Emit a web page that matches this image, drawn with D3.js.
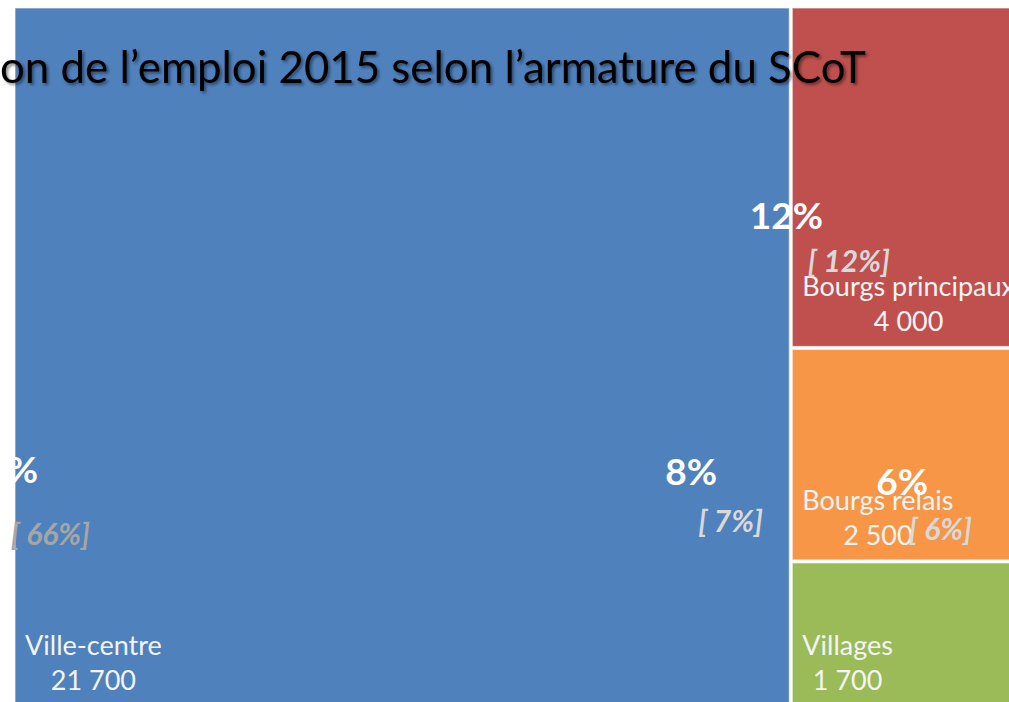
<!DOCTYPE html>
<html>
<head>
<meta charset="utf-8">
<script src="https://cdn.jsdelivr.net/npm/d3@7"></script>
<style>
  html, body { margin: 0; padding: 0; background: #fff; overflow: hidden; }
  svg { display: block; font-family: Lato, "Open Sans", sans-serif; }
</style>
</head>
<body>
<svg id="chart" width="1009" height="702"></svg>
<script>
// data
const names = ["Ville-centre", "Bourgs principaux", "Bourgs relais", "Villages"]
const jobs = [21700, 4000, 2500, 1700]
const groups = ["centre", "bourgs", "bourgs", "bourgs"]
const colors = ["#4F81BD", "#C0504D", "#F79646", "#9BBB59"]

// overlay text boxes (shares of jobs, [ shares of something else ])
const shareLabels = ["66%", "8%", "12%", "6%"]
const refLabels = ["[ 66%]", "[ 7%]", "[ 12%]", "[ 6%]"]

const title = "on de l\u2019emploi 2015 selon l\u2019armature du SCoT"

let svg = d3.select("#chart")
let fmt = d3.formatLocale({ decimal: ",", thousands: "\u00a0", grouping: [3], currency: ["", "\u20ac"] }).format(",d")

let margin = { top: 8, left: 15 }

// soft shadow for the title
let defs = svg.append("defs")
let f = defs.append("filter").attr("id", "shadow")
    .attr("x", "-5%").attr("y", "-20%").attr("width", "110%").attr("height", "150%")
f.append("feDropShadow")
    .attr("dx", 2).attr("dy", 2).attr("stdDeviation", 1.4)
    .attr("flood-color", "#000").attr("flood-opacity", 0.45)

// hierarchy: ville-centre on its own, the three others stacked in one column
let tree = {
    name: "root",
    children: [
        { name: "centre", children: [] },
        { name: "bourgs", children: [] }
    ]
}
names.forEach((n, i) => {
    tree.children.find(g => g.name === groups[i]).children.push({ name: n, value: jobs[i], color: colors[i] })
})

let root = d3.hierarchy(tree)
    .sum(d => d.value || 0)

// the treemap goes past the right edge of the window (picture is cropped)
d3.treemap()
    .tile(d3.treemapSliceDice)
    .size([1068, 697])
    .paddingInner(3)
    (root)

let leaves = root.leaves()

let plot = svg.append("g")
    .attr("transform", "translate(" + margin.left + "," + margin.top + ")")

let cells = plot.selectAll("g")
    .data(leaves)
    .enter().append("g")

cells.append("rect")
    .attr("x", d => d.x0)
    .attr("y", d => d.y0)
    .attr("width", d => d.x1 - d.x0)
    .attr("height", d => d.y1 - d.y0)
    .style("fill", d => d.data.color)
    .style("stroke", "rgba(255,255,255,0.55)")
    .style("stroke-width", 1.2)

// category name + value, lower left of each cell
cells.each(function(d) {
    let g = d3.select(this)
    let t = g.append("text")
        .attr("x", d.x0 + 10)
        .attr("y", d.y1 - 50)
        .style("fill", "#f4f4f4")
        .style("font-size", "27px")
        .text(d.data.name)
    let w = t.node().getComputedTextLength()
    g.append("text")
        .attr("x", d.x0 + 10 + w / 2)
        .attr("y", d.y1 - 15)
        .attr("text-anchor", "middle")
        .style("fill", "#f4f4f4")
        .style("font-size", "27px")
        .text(fmt(d.data.value))
})

// overlay boxes, placed where they sit on the slide
let sharePos = [[38, 483], [717, 485], [823, 229], [928, 495]]
let refPos = [[90, 545], [763, 532], [890, 272], [972, 540]]
let refColors = ["#a6a6a6", "#d9d9d9", "#d9d9d9", "#d9d9d9"]

svg.append("g").selectAll("text")
    .data(shareLabels)
    .enter().append("text")
    .attr("x", (d, i) => sharePos[i][0])
    .attr("y", (d, i) => sharePos[i][1])
    .attr("text-anchor", "end")
    .style("fill", "#fff")
    .style("font-weight", "bold")
    .style("font-size", "37px")
    .text(d => d)

svg.append("g").selectAll("text")
    .data(refLabels)
    .enter().append("text")
    .attr("x", (d, i) => refPos[i][0])
    .attr("y", (d, i) => refPos[i][1])
    .attr("text-anchor", "end")
    .style("fill", (d, i) => refColors[i])
    .style("font-weight", "bold")
    .style("font-style", "italic")
    .style("font-size", "30px")
    .text(d => d)

// title, cut on the left like the slide
svg.append("text")
    .attr("x", 0)
    .attr("y", 83)
    .attr("textLength", 866)
    .attr("lengthAdjust", "spacingAndGlyphs")
    .attr("filter", "url(#shadow)")
    .style("fill", "#000")
    .style("font-size", "45px")
    .text(title)
</script>
</body>
</html>
